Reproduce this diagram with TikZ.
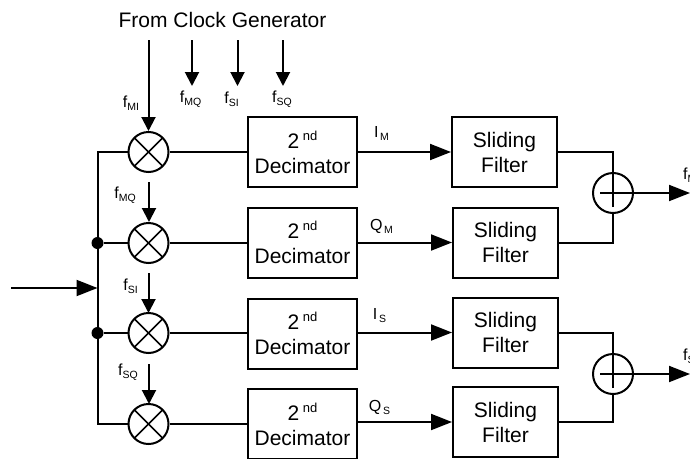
\documentclass[tikz,border=0pt]{standalone}
\usepackage{fontspec}
\setmainfont{Liberation Sans}
\usepackage{tikz}
\usetikzlibrary{arrows.meta}
\newcommand{\sublabel}[3][\,]{{\fontsize{16}{16}\selectfont #2}#1\raisebox{-3pt}{\fontsize{10.5}{10.5}\selectfont #3}}
\newcommand{\twond}{2\,\raisebox{8pt}{\fontsize{13}{13}\selectfont nd}}
\tikzset{
  wire/.style={line width=2pt},
  clockarrow/.style={wire, -{Triangle[length=14pt,width=14pt]}},
  sigarrow/.style={wire, -{Triangle[length=21pt,width=16pt]}},
  blockbox/.style={draw, line width=2pt, inner sep=0pt, minimum width=109pt, minimum height=70pt,
    align=center, font=\fontsize{21}{25}\selectfont},
  mixer/.style={circle, draw, line width=2pt, minimum size=40pt, inner sep=0pt,
    path picture={
      \draw[line width=1.6pt] (path picture bounding box.north west) -- (path picture bounding box.south east);
      \draw[line width=1.6pt] (path picture bounding box.north east) -- (path picture bounding box.south west);
    }},
  adder/.style={circle, draw, line width=2pt, minimum size=40pt, inner sep=0pt,
    path picture={
      \draw[line width=1.5pt] ([xshift=-13pt]path picture bounding box.center) -- (path picture bounding box.east);
      \draw[line width=1.5pt] ([yshift=-14pt]path picture bounding box.center) -- (path picture bounding box.north);
    }},
  junction/.style={circle, fill=black, inner sep=0pt, minimum size=12pt}
}
\begin{document}
\begin{tikzpicture}[x=1pt, y=-1pt]
    \clip (0,0) rectangle (690,458);

    \node[font=\fontsize{21}{21}\selectfont] (title) at (222.5,20) {From Clock Generator};

    \foreach \i/\ym/\yd/\ys/\xs in {1/152/152/152/504.5,2/243/242.5/242.5/505.5,3/333/333.5/332.5/505.5,4/424/424/422/505.5}{
      \node[mixer] (mx\i) at (148.5,\ym) {};
      \node[blockbox] (dec\i) at (302.5,\yd) {\twond\\Decimator};
      \node[blockbox, minimum width=105pt] (sf\i) at (\xs,\ys) {Sliding\\Filter};
      \draw[wire] (mx\i) -- (mx\i -| dec\i.west);
      \draw[sigarrow] (dec\i.east |- sf\i) -- (sf\i);
    }

    \coordinate (bustop) at (97.5,152);
    \coordinate (busbot) at (97.5,424);
    \node[junction] (jn2) at (97.5,243) {};
    \node[junction] (jn3) at (97.5,333) {};
    \draw[wire] (mx1) -- (bustop) -- (busbot) -- (mx4);
    \draw[wire] (jn2) -- (mx2);
    \draw[wire] (jn3) -- (mx3);
    \coordinate (in) at (11,288);
    \coordinate (inbus) at (97.5,288);
    \draw[sigarrow] (in) -- (inbus);

    \node[adder] (add1) at (613,193) {};
    \node[adder] (add2) at (613,374) {};
    \draw[wire] (sf1) -| (add1);
    \draw[wire] (sf2) -| (add1);
    \draw[wire] (sf3) -| (add2);
    \draw[wire] (sf4) -| (add2);
    \coordinate (out1) at (690,193);
    \coordinate (out2) at (690,374);
    \draw[sigarrow] (add1) -- (out1);
    \draw[sigarrow] (add2) -- (out2);

    % clock inputs
    \coordinate (clk1) at (148.5,40);
    \draw[clockarrow] (clk1) -- (mx1);
    \foreach \x/\n in {192/a,237.5/b,283/c}{
      \coordinate (top\n) at (\x,40);
      \coordinate (end\n) at (\x,86);
      \draw[clockarrow] (top\n) -- (end\n);
    }
    \foreach \i/\ya/\x in {2/182/149,3/273/148.5,4/364/149}{
      \coordinate (clk\i) at (\x,\ya);
      \coordinate (tip\i) at (\x,\ya+40);
      \draw[clockarrow] (clk\i) -- (tip\i);
    }

    \node (fmi) at (131,103) {\sublabel[]{f}{MI}};
    \node (fmqtop) at (190.5,99) {\sublabel[]{f}{MQ}};
    \node (fsitop) at (231.5,99) {\sublabel[]{f}{SI}};
    \node (fsqtop) at (282,99) {\sublabel[]{f}{SQ}};
    \node (fmq) at (125,195) {\sublabel[]{f}{MQ}};
    \node (fsi) at (130.5,286) {\sublabel[]{f}{SI}};
    \node (fsq) at (128,372) {\sublabel[]{f}{SQ}};

    \node (im) at (381.5,133) {\sublabel{I}{M}};
    \node (qm) at (381.5,226) {\sublabel{Q}{M}};
    \node (is) at (379.5,316) {\sublabel{I}{S}};
    \node (qs) at (379.5,407) {\sublabel{Q}{S}};

    \node[anchor=west, inner sep=0pt] (fm) at (683,175) {\sublabel[]{f}{M}};
    \node[anchor=west, inner sep=0pt] (fs) at (683,356) {\sublabel[]{f}{S}};
\end{tikzpicture}
\end{document}
